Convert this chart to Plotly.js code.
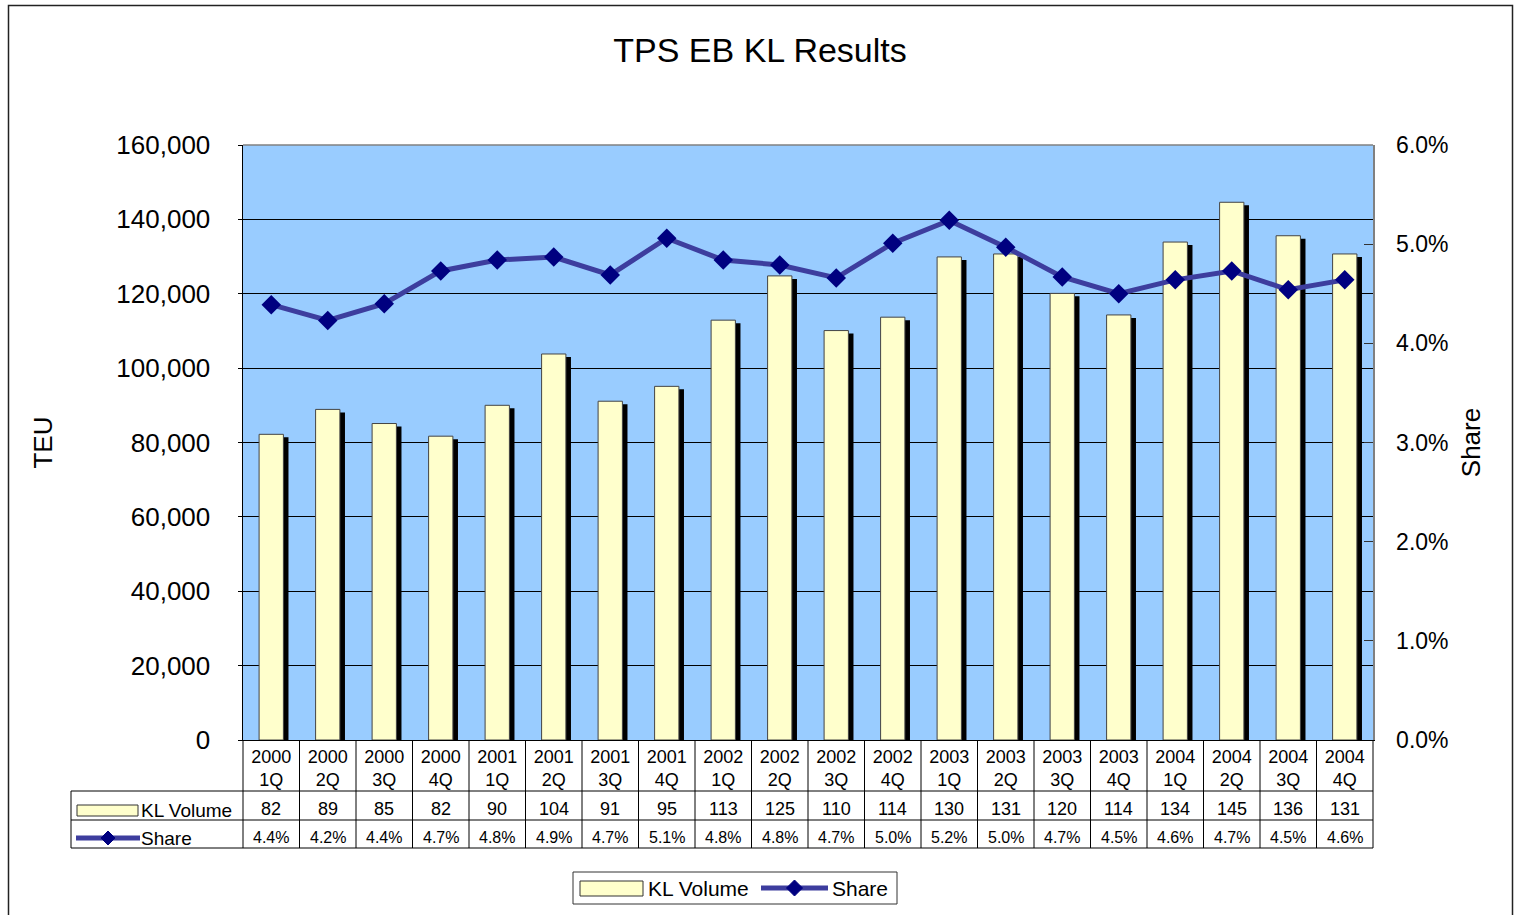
<!DOCTYPE html>
<html>
<head>
<meta charset="utf-8">
<script src="https://cdn.plot.ly/plotly-3.0.1.min.js"></script>
<style>
html,body{margin:0;padding:0;background:#fff;}
#chart{width:1514px;height:915px;}
</style>
</head>
<body>
<div id="chart"></div>
<script>
// ---- data ----
const periods = ['2000 1Q','2000 2Q','2000 3Q','2000 4Q','2001 1Q','2001 2Q','2001 3Q','2001 4Q',
  '2002 1Q','2002 2Q','2002 3Q','2002 4Q','2003 1Q','2003 2Q','2003 3Q','2003 4Q',
  '2004 1Q','2004 2Q','2004 3Q','2004 4Q'];
const tickLabels = periods.map(p => p.replace(' ', '<br>'));
const klVolume = [82200, 88900, 85100, 81700, 90000, 103800, 91100, 95100, 112900, 124800,
  110100, 113700, 129900, 130700, 120100, 114300, 133900, 144600, 135600, 130700];
const sharePct = [4.39, 4.23, 4.40, 4.73, 4.84, 4.87, 4.69, 5.06, 4.84, 4.79,
  4.66, 5.01, 5.24, 4.97, 4.67, 4.50, 4.64, 4.73, 4.54, 4.64];
const seriesNames = ['KL Volume', 'Share'];

// ---- layout geometry helpers (pixel -> paper) ----
const W = 1514, H = 915;
const PL = 243, PR = 1373, PT = 145, PB = 740;
const px = x => (x - PL) / (PR - PL);
const py = y => (PB - y) / (PB - PT);

const FONT = 'Liberation Sans, Arial, Helvetica, sans-serif';
const BAR_FILL = '#FFFFCC';
const LINE_COL = '#3D3D9E';
const MARK_COL = '#000080';

const shadow = {
  type: 'bar', x: periods, y: klVolume.map(v => v - 800),
  width: 0.43, offset: -0.125, marker: {color: '#000000', line: {width: 0}},
  yaxis: 'y', showlegend: false, hoverinfo: 'skip'
};
const bars = {
  type: 'bar', name: seriesNames[0], x: periods, y: klVolume,
  width: 0.43, offset: -0.215,
  marker: {color: BAR_FILL, line: {color: '#444444', width: 1}},
  yaxis: 'y', showlegend: false
};
const line = {
  type: 'scatter', mode: 'lines+markers', name: seriesNames[1], x: periods, y: sharePct,
  yaxis: 'y2', line: {color: LINE_COL, width: 5},
  marker: {symbol: 'diamond', size: 15, color: MARK_COL}, showlegend: false
};

const shapes = [];
const annotations = [];
const L = (x0, y0, x1, y1, color, w, xref) => shapes.push({
  type: 'line', xref: xref || 'paper', yref: 'paper', x0, y0, x1, y1,
  line: {color: color || '#000', width: w || 1}, layer: 'above'
});

// outer frame
shapes.push({type: 'rect', xref: 'paper', yref: 'paper', x0: px(8.5), x1: px(1512.5), y0: py(940), y1: py(5.5),
  line: {color: '#222', width: 1.5}, fillcolor: 'rgba(0,0,0,0)', layer: 'below'});
// plot area top border
L(0, 1, 1, 1, '#808080', 1.5);

// data table lines
const TAB_L = 71, R1 = 791, R2 = 820, R3 = 848;
L(px(TAB_L), py(R1), 1, py(R1));
L(px(TAB_L), py(R2), 1, py(R2));
L(px(TAB_L), py(R3), 1, py(R3));
L(px(TAB_L), py(R1), px(TAB_L), py(R3));
L(0, 0, 0, py(R3));
L(1, 0, 1, py(R3));
periods.forEach((p, i) => {
  if (i < periods.length - 1) {
    shapes.push({type: 'line', xref: 'x', yref: 'paper', x0: i + 0.5, x1: i + 0.5, y0: 0, y1: py(R3),
      line: {color: '#000', width: 1}, layer: 'above'});
  }
  annotations.push({xref: 'x', yref: 'paper', x: p, y: py((R1 + R2) / 2 + 3), showarrow: false,
    text: String(Math.round(klVolume[i] / 1000)), font: {family: FONT, size: 18, color: '#000'},
    xanchor: 'center', yanchor: 'middle'});
  annotations.push({xref: 'x', yref: 'paper', x: p, y: py((R2 + R3) / 2 + 3), showarrow: false,
    text: sharePct[i].toFixed(1) + '%', font: {family: FONT, size: 16, color: '#000'},
    xanchor: 'center', yanchor: 'middle'});
});

// keys (table row headers + legend)
function barKey(x0, x1, y0, y1) {
  shapes.push({type: 'rect', xref: 'paper', yref: 'paper', x0: px(x0), x1: px(x1), y0: py(y1), y1: py(y0),
    fillcolor: BAR_FILL, line: {color: '#333', width: 1}, layer: 'above'});
}
function lineKey(x0, x1, y, d) {
  L(px(x0), py(y), px(x1), py(y), LINE_COL, 5);
  const cx = (x0 + x1) / 2;
  shapes.push({type: 'path', xref: 'paper', yref: 'paper',
    path: `M ${px(cx - d)},${py(y)} L ${px(cx)},${py(y - d)} L ${px(cx + d)},${py(y)} L ${px(cx)},${py(y + d)} Z`,
    fillcolor: MARK_COL, line: {color: MARK_COL, width: 1}, layer: 'above'});
}
function label(text, x, y, size) {
  annotations.push({xref: 'paper', yref: 'paper', x: px(x), y: py(y), text, showarrow: false,
    xanchor: 'left', yanchor: 'middle', font: {family: FONT, size, color: '#000'}});
}
barKey(77, 138, 805, 816);
label(seriesNames[0], 139, 810, 19);
lineKey(76, 140, 838, 7);
label(seriesNames[1], 139, 838, 19);

// bottom legend
shapes.push({type: 'rect', xref: 'paper', yref: 'paper', x0: px(573), x1: px(897), y0: py(904), y1: py(872),
  line: {color: '#333', width: 1}, fillcolor: '#fff', layer: 'above'});
barKey(580, 643, 881, 896);
label(seriesNames[0], 646, 888, 21);
lineKey(761, 828, 888, 8);
label(seriesNames[1], 830, 888, 21);

const layout = {
  width: W, height: H,
  paper_bgcolor: '#ffffff', plot_bgcolor: '#99CCFF',
  margin: {l: PL, r: W - PR, t: PT, b: H - PB, pad: 0},
  font: {family: FONT, color: '#000'},
  title: {text: 'TPS EB KL Results', font: {family: FONT, size: 34, color: '#000'},
    xref: 'container', x: 0.502, xanchor: 'center', yref: 'container', y: 1 - 50 / H, yanchor: 'middle'},
  barmode: 'overlay',
  showlegend: false,
  xaxis: {type: 'category', tickvals: periods, ticktext: tickLabels, range: [-0.5, periods.length - 0.5],
    showgrid: false, showline: true, linecolor: '#000', linewidth: 1, ticks: '',
    tickfont: {family: FONT, size: 18, color: '#000'}, fixedrange: true, automargin: false},
  yaxis: {range: [0, 160000], dtick: 20000, tickformat: ',d', showgrid: true, gridcolor: '#000', gridwidth: 1,
    zeroline: false, showline: true, linecolor: '#000', linewidth: 1.5, ticks: 'outside', ticklen: 4, tickcolor: '#000',
    ticklabelstandoff: 22, tickfont: {family: FONT, size: 26, color: '#000'},
    title: {text: 'TEU', font: {family: FONT, size: 26, color: '#000'}, standoff: 56}, automargin: false},
  yaxis2: {overlaying: 'y', side: 'right', range: [0, 6], dtick: 1, tickformat: '.1f', ticksuffix: '%',
    showgrid: false, zeroline: false, showline: true, linecolor: '#808080', linewidth: 1.5,
    ticks: 'inside', ticklen: 9, tickcolor: '#333', ticklabelstandoff: 17,
    tickfont: {family: FONT, size: 23, color: '#000'},
    title: {text: 'Share', font: {family: FONT, size: 26, color: '#000'}, standoff: 14}, automargin: false},
  shapes, annotations
};

Plotly.newPlot('chart', [shadow, bars, line], layout, {displayModeBar: false, staticPlot: true});
</script>
</body>
</html>
